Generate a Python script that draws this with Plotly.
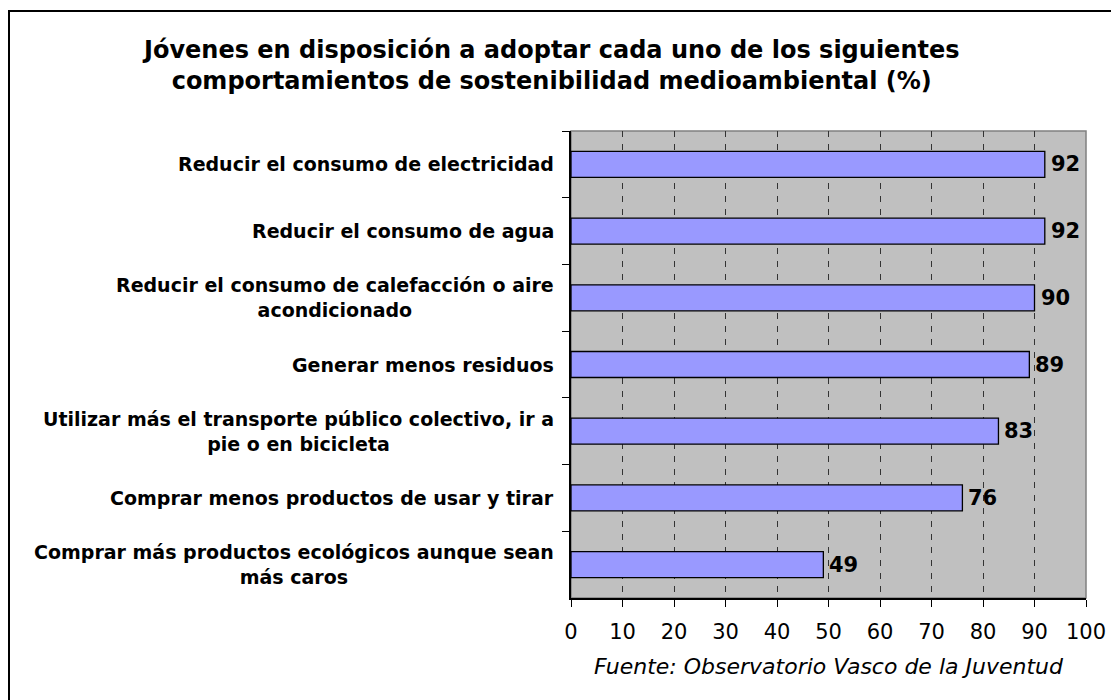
import plotly.graph_objects as go

categories = [
    "Reducir el consumo de electricidad",
    "Reducir el consumo de agua",
    "Reducir el consumo de calefacción o aire<br>acondicionado",
    "Generar menos residuos",
    "Utilizar más el transporte público colectivo, ir a<br>pie o en bicicleta",
    "Comprar menos productos de usar y tirar",
    "Comprar más productos ecológicos aunque sean<br>más caros",
]
values = [92, 92, 90, 89, 83, 76, 49]
x_ticks = [0, 10, 20, 30, 40, 50, 60, 70, 80, 90, 100]
title_text = ("Jóvenes en disposición a adoptar cada uno de los siguientes<br>"
              "comportamientos de sostenibilidad medioambiental (%)")
source_text = "Fuente: Observatorio Vasco de la Juventud"

# page body has an 8px margin; figure is sized to fit the window
OFF = 8
W, H = 1119 - OFF, 700 - OFF
L, R, T, B = 571 - OFF, 1086 - OFF, 131 - OFF, 598 - OFF
pw, ph = R - L, B - T


def px(x):
    return (x - OFF - L) / pw


def py(y):
    return (B - (y - OFF)) / ph


FONT = "DejaVu Sans"

fig = go.Figure()
fig.add_trace(go.Bar(
    x=values, y=categories, orientation="h",
    marker=dict(color="#9999FF", line=dict(color="black", width=1.3)),
    width=0.39, hoverinfo="skip",
))

annotations = []
for c in categories:
    annotations.append(dict(
        x=0, xref="paper", y=c, yref="y", text=c, showarrow=False,
        xanchor="right", yanchor="middle", align="center", xshift=-15,
        font=dict(family=FONT, size=19, color="black", weight="bold"),
    ))
for c, v in zip(categories, values):
    annotations.append(dict(
        x=v, xref="x", y=c, yref="y", text=str(v), showarrow=False,
        xanchor="left", yanchor="middle", xshift=4,
        font=dict(family=FONT, size=21, color="black", weight="bold"),
    ))
annotations.append(dict(
    x=px(551), xref="paper", y=py(65), yref="paper", text=title_text,
    showarrow=False, xanchor="center", yanchor="middle", align="center",
    font=dict(family=FONT, size=24, color="black", weight="bold"),
))
annotations.append(dict(
    x=px(829), xref="paper", y=py(666), yref="paper", text=source_text,
    showarrow=False, xanchor="center", yanchor="middle",
    font=dict(family=FONT, size=22, color="black", style="italic"),
))

shapes = [
    dict(type="rect", xref="paper", yref="paper", x0=0, x1=1, y0=0, y1=1,
         line=dict(color="#808080", width=1.5), fillcolor="rgba(0,0,0,0)", layer="below"),
    dict(type="rect", xref="paper", yref="paper",
         x0=px(9), x1=px(1135), y0=py(11), y1=py(715),
         line=dict(color="black", width=2), fillcolor="rgba(0,0,0,0)"),
]

fig.update_layout(
    width=W, height=H,
    margin=dict(l=L, r=W - R, t=T, b=H - B, pad=0),
    paper_bgcolor="white", plot_bgcolor="#C0C0C0",
    showlegend=False,
    annotations=annotations, shapes=shapes,
    xaxis=dict(
        range=[0, 100], tickvals=x_ticks, ticks="outside", ticklen=7,
        tickcolor="black", tickwidth=1, ticklabelstandoff=7,
        showline=True, linecolor="black", linewidth=1.5,
        showgrid=True, gridcolor="#333333", gridwidth=1, griddash="6px,7px",
        zeroline=False,
        tickfont=dict(family=FONT, size=21, color="black"),
        fixedrange=True,
    ),
    yaxis=dict(
        autorange="reversed", showticklabels=False,
        ticks="outside", ticklen=7, tickcolor="black", tickson="boundaries",
        showline=True, linecolor="black", linewidth=1.5,
        showgrid=False, zeroline=False, fixedrange=True,
    ),
    bargap=0.61,
)

fig.write_html("out.html")
